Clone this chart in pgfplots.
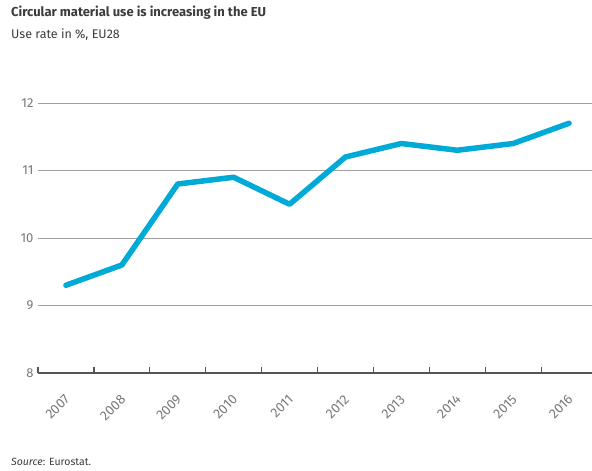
\documentclass[border=0pt]{standalone}
\usepackage{pgfplots}
\pgfplotsset{compat=1.18}
\usepackage{fontspec}
\setmainfont{Fira Sans}
\definecolor{linecyan}{RGB}{0,170,214}
\definecolor{gridgrey}{RGB}{160,160,160}
\definecolor{axisgrey}{RGB}{85,85,85}
\definecolor{labelgrey}{RGB}{120,120,120}
\definecolor{titlegrey}{RGB}{60,60,60}
\begin{document}
\begin{tikzpicture}
\path[use as bounding box] (-38pt,-98pt) rectangle (554pt,373pt);
\begin{axis}[
  at={(0pt,0pt)}, anchor=south west,
  scale only axis, width=554pt, height=270pt,
  xmin=-0.5, xmax=9.41, ymin=8, ymax=12,
  clip=false,
  axis line style={draw=none},
  axis x line*=bottom, axis y line*=left,
  ytick={8,9,10,11,12},
  yticklabels={8,9,10,11,12},
  ymajorgrids, grid style={gridgrey, line width=0.8pt},
  major y tick style={draw=none},
  yticklabel style={font=\fontsize{13}{13}\selectfont, text=labelgrey, xshift=-1pt},
  /pgf/number format/assume math mode=true,
  xtick={-0.5,0.5,...,8.5},
  xticklabels={},
  major x tick style={draw=axisgrey, line width=1.2pt},
  xtick align=inside, major tick length=6pt,
  extra x ticks={0,1,...,9},
  extra x tick labels={2007,2008,2009,2010,2011,2012,2013,2014,2015,2016},
  extra x tick style={major tick length=0pt, grid=none,
    xticklabel style={xshift=-2pt, yshift=-16pt, rotate=45, anchor=north east, font=\fontsize{13.5}{13.5}\selectfont, text=labelgrey}},
]
\draw[axisgrey, line width=2pt] (axis cs:-0.5,8) -- (axis cs:9.41,8);
\addplot[linecyan, line width=5.5pt, line join=round, line cap=round, mark=none] coordinates {
(0,9.3) (1,9.6) (2,10.8) (3,10.9) (4,10.5) (5,11.2) (6,11.4) (7,11.3) (8,11.4) (9,11.7)
};
\end{axis}
\node[anchor=base west, inner sep=0pt, text=titlegrey, font=\bfseries\fontsize{13}{13}\selectfont] at (-27pt,356pt) {Circular material use is increasing in the EU};
\node[anchor=base west, inner sep=0pt, text=titlegrey, font=\fontsize{12.5}{12.5}\selectfont] at (-27pt,334pt) {Use rate in \%, EU28};
\node[anchor=base west, inner sep=0pt, text=titlegrey, font=\fontsize{10.5}{10.5}\selectfont] at (-27pt,-93pt) {\textit{Source}: Eurostat.};
\end{tikzpicture}
\end{document}
